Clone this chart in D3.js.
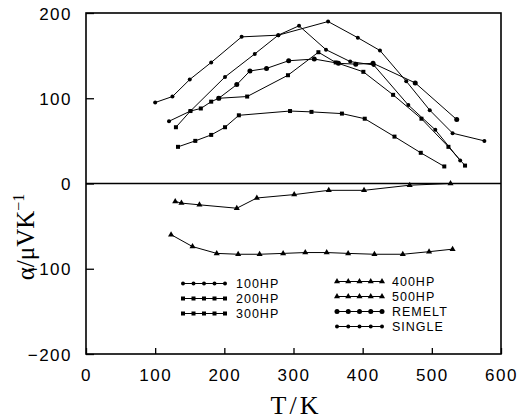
<!DOCTYPE html>
<html>
<head>
<meta charset="utf-8">
<script src="https://cdn.jsdelivr.net/npm/d3@7"></script>
<style>
  body { margin: 0; background: #fff; }
  svg { display: block; }
</style>
</head>
<body>
<svg id="chart"></svg>
<script>
const width = 519;
const height = 419;

// data (T in K, alpha in uV/K)
const seriesNames = ["100HP", "200HP", "300HP", "400HP", "500HP", "REMELT", "SINGLE"];
const hp100 = [[100,95],[125,102],[150,122],[181,142],[225,172],[278,174],[308,185],[347,157],[382,143],[416,139],[466,92],[505,63],[541,27]];
const hp200 = [[130,66],[151,85],[166,88],[181,96],[192,100],[233,102],[292,127],[336,154],[361,142],[401,131],[444,104],[485,76],[524,43],[548,21]];
const hp300 = [[133,43],[158,50],[181,57],[201,66],[221,80],[295,85],[326,84],[370,82],[403,76],[446,55],[484,36],[518,20]];
const hp400 = [[129,-21],[138,-23],[164,-25],[218,-29],[247,-17],[301,-13],[351,-8],[402,-8],[468,-2],[527,0]];
const hp500 = [[123,-60],[154,-74],[189,-82],[220,-83],[251,-83],[285,-82],[317,-81],[348,-81],[379,-82],[417,-83],[458,-83],[496,-80],[530,-77]];
const remelt = [[192,100],[218,116],[237,132],[261,135],[293,144],[330,146],[365,141],[390,140],[415,141],[476,118],[536,75]];
const single = [[120,73],[151,85],[201,125],[244,152],[278,174],[350,190],[393,171],[425,156],[463,120],[497,86],[530,59],[576,50]];

const xTicks = [0, 100, 200, 300, 400, 500, 600];
const yTicks = [-200, -100, 0, 100, 200];

const seriesData = [hp100, hp200, hp300, hp400, hp500, remelt, single];
const markers = ["circle", "square", "square", "triangle", "triangle", "bigcircle", "circle"];

const x = d3.scaleLinear().domain([0, 600]).range([86, 501]);
const y = d3.scaleLinear().domain([-200, 200]).range([354, 13]);

const svg = d3.select('#chart')
    .attr('width', width)
    .attr('height', height);

// frame
svg.append('rect')
    .attr('x', x(0)).attr('y', y(200))
    .attr('width', x(600) - x(0)).attr('height', y(-200) - y(200))
    .attr('fill', 'none').attr('stroke', '#000').attr('stroke-width', 1.6);

// zero line
svg.append('line')
    .attr('x1', x(0)).attr('x2', x(600))
    .attr('y1', y(0)).attr('y2', y(0))
    .attr('stroke', '#000').attr('stroke-width', 1.3);

const fmt = d => d < 0 ? "\u2212" + Math.abs(d) : String(d);

const xAxis = svg.append('g')
    .attr('transform', `translate(0,${y(-200)})`)
    .call(d3.axisBottom(x).tickValues(xTicks).tickSize(-6).tickPadding(12).tickFormat(fmt));
const yAxis = svg.append('g')
    .attr('transform', `translate(${x(0)},0)`)
    .call(d3.axisLeft(y).tickValues(yTicks).tickSize(-8).tickPadding(14).tickFormat(fmt));

[xAxis, yAxis].forEach(g => {
    g.select('.domain').remove();
    g.selectAll('line').attr('stroke', '#000').attr('stroke-width', 1.3);
    g.selectAll('text')
        .attr('fill', '#000')
        .style('font-family', '"Liberation Sans", Arial, sans-serif')
        .style('font-size', '17px')
        .style('letter-spacing', '1.5px');
});
xAxis.selectAll('text').attr('dy', '0.9em');
yAxis.selectAll('text').attr('dy', '0.36em');

// axis titles
svg.append('text')
    .attr('x', 296).attr('y', 414)
    .attr('text-anchor', 'middle')
    .style('font-family', '"Liberation Serif", "Times New Roman", serif')
    .style('font-size', '26px')
    .style('letter-spacing', '3px')
    .text('T/K');

const ylab = svg.append('text')
    .attr('transform', 'translate(34,237) rotate(-90)')
    .attr('text-anchor', 'middle')
    .style('font-family', '"Liberation Serif", "Times New Roman", serif')
    .style('font-size', '25px');
ylab.append('tspan').text('\u03b1/\u03bcVK');
ylab.append('tspan').attr('dy', -10).style('font-size', '16px').text('\u22121');

const line = d3.line().x(d => x(d[0])).y(d => y(d[1]));

function drawMarker(g, kind, cx, cy) {
    if (kind === "square") {
        g.append('rect').attr('x', cx - 2).attr('y', cy - 2).attr('width', 4).attr('height', 4).attr('fill', '#000');
    } else if (kind === "triangle") {
        const s = d3.symbol().type(d3.symbolTriangle).size(16);
        g.append('path').attr('d', s()).attr('transform', `translate(${cx},${cy})`).attr('fill', '#000');
    } else if (kind === "bigcircle") {
        g.append('circle').attr('cx', cx).attr('cy', cy).attr('r', 2.5).attr('fill', '#000');
    } else {
        g.append('circle').attr('cx', cx).attr('cy', cy).attr('r', 2).attr('fill', '#000');
    }
}

seriesData.forEach((data, i) => {
    const g = svg.append('g');
    g.append('path')
        .attr('d', line(data))
        .attr('fill', 'none')
        .attr('stroke', '#000')
        .attr('stroke-width', 1);
    data.forEach(d => drawMarker(g, markers[i], x(d[0]), y(d[1])));
});

// legend
const legendPos = [
    {x0: 183, x1: 225, tx: 236, ty: 283.5},
    {x0: 183, x1: 225, tx: 236, ty: 298.5},
    {x0: 183, x1: 225, tx: 236, ty: 313.5},
    {x0: 337, x1: 382, tx: 392, ty: 281.5},
    {x0: 337, x1: 382, tx: 392, ty: 296.5},
    {x0: 337, x1: 382, tx: 392, ty: 311.5},
    {x0: 337, x1: 382, tx: 392, ty: 326.5}
];
seriesNames.forEach((name, i) => {
    const p = legendPos[i];
    const g = svg.append('g');
    g.append('line')
        .attr('x1', p.x0).attr('x2', p.x1).attr('y1', p.ty).attr('y2', p.ty)
        .attr('stroke', '#000').attr('stroke-width', 1.2);
    d3.range(5).forEach(k => drawMarker(g, markers[i], p.x0 + k * (p.x1 - p.x0) / 4, p.ty));
    g.append('text')
        .attr('x', p.tx).attr('y', p.ty).attr('dy', '0.36em')
        .style('font-family', '"Liberation Sans", Arial, sans-serif')
        .style('font-size', '12.5px')
        .style('letter-spacing', '1px')
        .text(name);
});
</script>
</body>
</html>
